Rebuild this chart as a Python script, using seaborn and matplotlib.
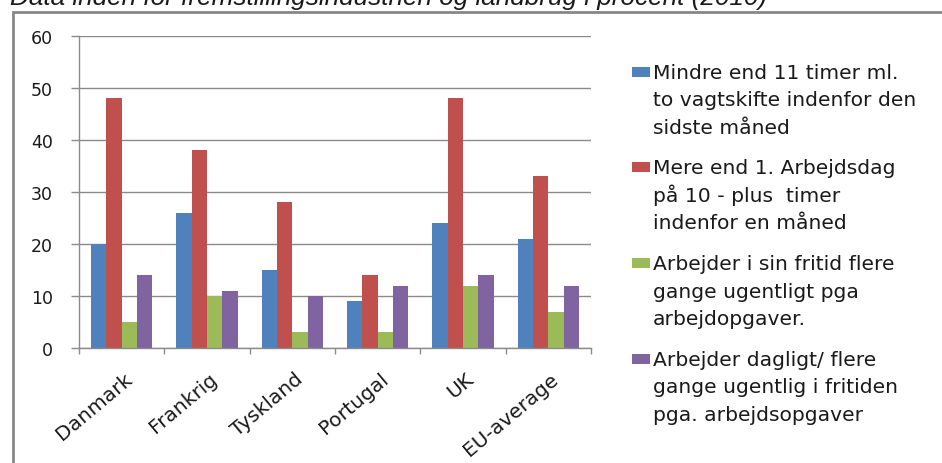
import numpy as np
import pandas as pd
import matplotlib
matplotlib.use("Agg")
import matplotlib.pyplot as plt
from matplotlib.patches import Rectangle
from matplotlib.transforms import ScaledTranslation
import seaborn as sns

# --- data -------------------------------------------------------------
lande = ["Danmark", "Frankrig", "Tyskland", "Portugal", "UK", "EU-average"]
serier = [
    "Mindre end 11 timer ml.\nto vagtskifte indenfor den\nsidste måned",
    "Mere end 1. Arbejdsdag\npå 10 - plus  timer\nindenfor en måned",
    "Arbejder i sin fritid flere\ngange ugentligt pga\narbejdopgaver.",
    "Arbejder dagligt/ flere\ngange ugentlig i fritiden\npga. arbejdsopgaver",
]
mindre_end_11_timer = [20, 26, 15, 9, 24, 21]
mere_end_1_arbejdsdag = [48, 38, 28, 14, 48, 33]
fritid_ugentligt = [5, 10, 3, 3, 12, 7]
dagligt_fritid = [14, 11, 10, 12, 14, 12]
y_ticks = [0, 10, 20, 30, 40, 50, 60]
titel = "Data inden for fremstillingsindustrien og landbrug i procent (2010)"

farver = ["#4F81BD", "#C0504D", "#9BBB59", "#8064A2"]
GRAA = "#8a8a8a"
TEKST = "#1a1a1a"
FONT = "DejaVu Sans"

vaerdier = [mindre_end_11_timer, mere_end_1_arbejdsdag, fritid_ugentligt, dagligt_fritid]
df = pd.DataFrame(
    [(land, serie, v) for serie, vals in zip(serier, vaerdier) for land, v in zip(lande, vals)],
    columns=["land", "serie", "procent"],
)

# --- figure -----------------------------------------------------------
W, H = 942, 464
fig = plt.figure(figsize=(W / 100, H / 100), dpi=100)
fig.patch.set_facecolor("white")

def fx(px):
    return px / W

def fy(py):
    return 1 - py / H

ax = fig.add_axes([fx(79), fy(349), fx(591) - fx(79), fy(37) - fy(349)])

sns.barplot(
    data=df, x="land", y="procent", hue="serie",
    order=lande, hue_order=serier, palette=farver,
    width=0.72, saturation=1, legend=False, ax=ax,
)

ax.set_xlim(-0.5, len(lande) - 0.5)
ax.set_ylim(0, 60)
ax.set_yticks(y_ticks)
ax.set_xlabel("")
ax.set_ylabel("")
ax.yaxis.grid(True, color=GRAA, linewidth=1)
ax.set_axisbelow(True)
for side in ("top", "right"):
    ax.spines[side].set_visible(False)
for side in ("left", "bottom"):
    ax.spines[side].set_color(GRAA)
    ax.spines[side].set_linewidth(1)

ax.tick_params(axis="y", length=5.8, width=1, color=GRAA, pad=13,
               labelsize=12.5, labelcolor=TEKST)
for lbl in ax.get_yticklabels():
    lbl.set_family(FONT)

# category boundary ticks below the axis
ax.set_xticks(np.arange(-0.5, len(lande), 1.0), minor=True)
ax.tick_params(axis="x", which="minor", length=4.3, width=1, color=GRAA)
ax.tick_params(axis="x", which="major", length=0, pad=0,
               labelsize=14.5, labelcolor=TEKST)
ax.set_xticks(range(len(lande)))
ax.set_xticklabels(lande)
skift = ScaledTranslation(8 / 100, -28 / 100, fig.dpi_scale_trans)
for lbl in ax.get_xticklabels():
    lbl.set_family(FONT)
    lbl.set_rotation(40)
    lbl.set_ha("right")
    lbl.set_va("center")
    lbl.set_rotation_mode("anchor")
    lbl.set_transform(lbl.get_transform() + skift)

# --- legend -----------------------------------------------------------
for i, (serie, farve) in enumerate(zip(serier, farver)):
    base = 78.6 + i * 95.8
    fig.add_artist(Rectangle((fx(632), fy(base - 1)), fx(18), 10 / H,
                             transform=fig.transFigure, facecolor=farve,
                             edgecolor="none"))
    for j, linje in enumerate(serie.split("\n")):
        fig.text(fx(653), fy(base + j * 27.5), linje, va="baseline",
                 ha="left", fontsize=14.6, family=FONT, color=TEKST)

# --- frame and title --------------------------------------------------
fig.add_artist(Rectangle((fx(12.5), -0.05), 1.2, fy(12.5) + 0.05,
                         transform=fig.transFigure, fill=False,
                         edgecolor="#878787", linewidth=2))
fig.text(fx(10), fy(4.5), titel, va="baseline", ha="left", fontsize=18.8,
         style="italic", family="Liberation Sans", color=TEKST)

fig.savefig("out.png", dpi=100, facecolor="white")
